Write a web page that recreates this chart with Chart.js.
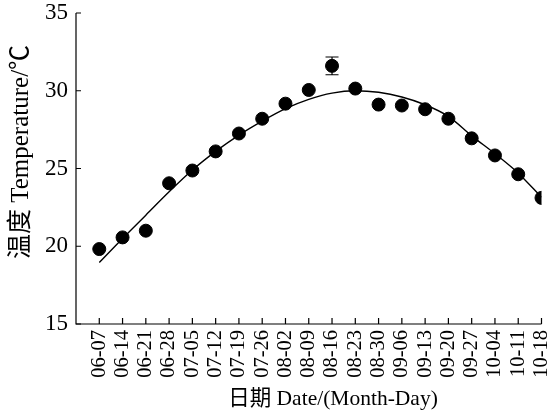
<!DOCTYPE html>
<html>
<head>
<meta charset="utf-8">
<script src="https://cdn.jsdelivr.net/npm/chart.js@4/dist/chart.umd.min.js"></script>
<style>
  html, body { margin: 0; padding: 0; background: #fff; }
  #wrap { width: 549px; height: 414px; }
</style>
</head>
<body>
<div id="wrap"><canvas id="tempChart"></canvas></div>
<script>
const dates = ["06-07", "06-14", "06-21", "06-28", "07-05", "07-12", "07-19", "07-26", "08-02", "08-09",
               "08-16", "08-23", "08-30", "09-06", "09-13", "09-20", "09-27", "10-04", "10-11", "10-18"];
const temps = [19.82, 20.57, 21.0, 24.05, 24.87, 26.1, 27.25, 28.2, 29.17, 30.05,
               31.6, 30.14, 29.11, 29.05, 28.81, 28.2, 26.94, 25.84, 24.63, 23.11];
const errors = [0, 0, 0, 0, 0, 0, 0, 0, 0, 0,
                0.57, 0, 0, 0, 0, 0, 0, 0, 0, 0];
const fitted = [18.95, 20.5, 22.0, 23.5, 24.9, 26.1, 27.15, 28.05, 28.85, 29.45,
                29.85, 30.0, 29.9, 29.6, 29.1, 28.35, 27.1, 25.95, 24.7, 23.15];
const yTicks = [15, 20, 25, 30, 35];

const serif = "'Liberation Serif', 'Times New Roman', 'Noto Sans CJK SC', serif";

// inward tick marks, error bar, axis titles
const extras = {
    id: 'extras',
    afterDatasetsDraw(chart) {
        const ctx = chart.ctx;
        const x = chart.scales.x, y = chart.scales.y;
        ctx.save();
        ctx.strokeStyle = '#000';
        ctx.lineWidth = 1.2;

        // axis lines
        ctx.beginPath();
        ctx.moveTo(x.left, y.top);
        ctx.lineTo(x.left, y.bottom);
        ctx.lineTo(x.right, y.bottom);
        ctx.stroke();

        ctx.beginPath();
        yTicks.forEach(v => {
            const py = y.getPixelForValue(v);
            ctx.moveTo(x.left, py);
            ctx.lineTo(x.left + 5, py);
        });
        dates.forEach((_, i) => {
            const px = x.getPixelForValue(i);
            ctx.moveTo(px, y.bottom);
            ctx.lineTo(px, y.bottom - 6);
        });
        ctx.stroke();

        // error bars
        errors.forEach((e, i) => {
            if (!e) return;
            const px = x.getPixelForValue(i);
            const top = y.getPixelForValue(temps[i] + e);
            const bot = y.getPixelForValue(temps[i] - e);
            ctx.beginPath();
            ctx.moveTo(px, top); ctx.lineTo(px, bot);
            ctx.moveTo(px - 6.5, top); ctx.lineTo(px + 6.5, top);
            ctx.moveTo(px - 6.5, bot); ctx.lineTo(px + 6.5, bot);
            ctx.stroke();
        });

        ctx.fillStyle = '#000';
        ctx.textAlign = 'center';
        ctx.textBaseline = 'middle';
        ctx.font = '21.5px ' + serif;
        ctx.fillText('日期 Date/(Month-Day)', 333, 399);

        ctx.font = '25px ' + serif;
        ctx.translate(21, 152);
        ctx.rotate(-Math.PI / 2);
        ctx.fillText('温度 Temperature/℃', 0, 0);
        ctx.restore();
    }
};

new Chart(document.getElementById('tempChart'), {
    type: 'scatter',
    data: {
        datasets: [
            {
                label: 'Fit',
                type: 'line',
                data: fitted.map((v, i) => ({ x: i, y: v })),
                borderColor: '#000',
                borderWidth: 1.4,
                pointRadius: 0,
                cubicInterpolationMode: 'monotone',
                fill: false
            },
            {
                label: 'Temperature',
                data: temps.map((v, i) => ({ x: i, y: v })),
                backgroundColor: '#000',
                borderColor: '#000',
                pointRadius: 6.5,
                pointHoverRadius: 6.5
            }
        ]
    },
    options: {
        responsive: true,
        maintainAspectRatio: false,
        animation: false,
        layout: { padding: { top: 13, right: 7, left: 0, bottom: 0 } },
        plugins: {
            legend: { display: false },
            tooltip: { enabled: false }
        },
        scales: {
            x: {
                type: 'linear',
                min: -1,
                max: 19,
                grid: { display: false, drawTicks: false },
                border: { display: false },
                afterFit: s => { s.height = 90; s.paddingLeft = 0; s.paddingRight = 0; },
                afterBuildTicks: s => { s.ticks = dates.map((_, i) => ({ value: i })); },
                ticks: {
                    color: '#000',
                    autoSkip: false,
                    minRotation: 90,
                    maxRotation: 90,
                    padding: 6,
                    font: { family: serif, size: 20.5 },
                    callback: v => dates[v] || ''
                }
            },
            y: {
                min: 15,
                max: 35,
                grid: { display: false, drawTicks: false },
                border: { display: false },
                afterFit: s => { s.width = 76; s.paddingTop = 0; s.paddingBottom = 0; },
                afterBuildTicks: s => { s.ticks = yTicks.map(v => ({ value: v })); },
                ticks: {
                    color: '#000',
                    padding: 8,
                    font: { family: serif, size: 23 }
                }
            }
        }
    },
    plugins: [extras]
});
</script>
</body>
</html>
